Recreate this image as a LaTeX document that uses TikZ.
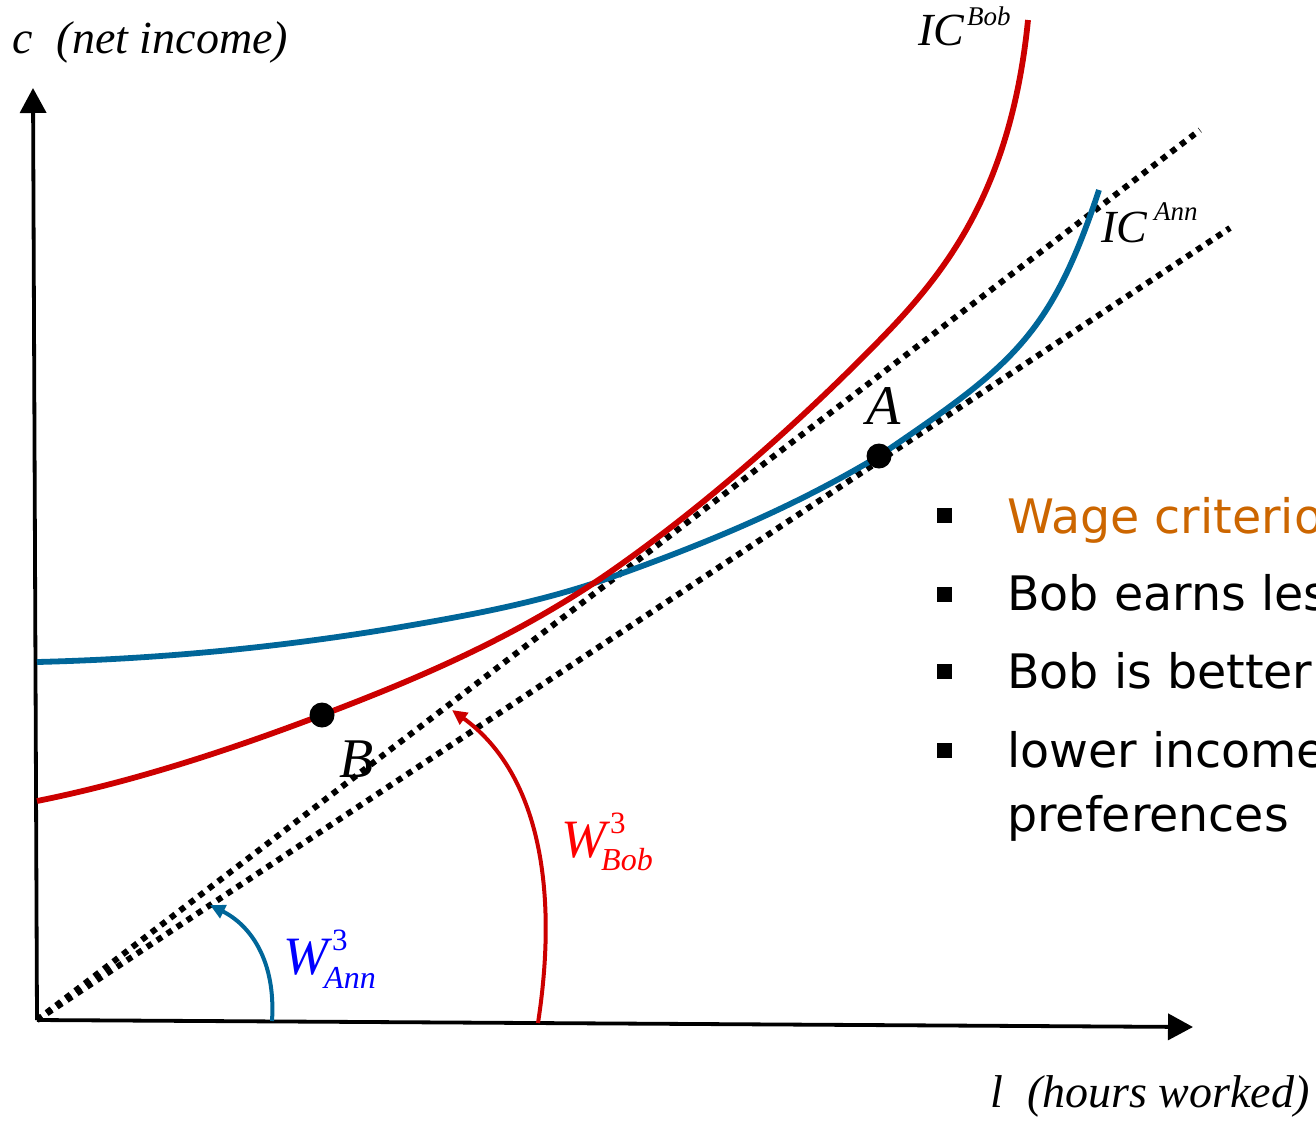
\documentclass[tikz,border=0pt]{standalone}
\usepackage{fontspec}
\setmainfont{Liberation Serif}
\newfontfamily\bulletfont{DejaVu Sans}
\usetikzlibrary{arrows.meta}
\definecolor{bobred}{RGB}{204,0,0}
\definecolor{annblue}{RGB}{0,102,153}
\definecolor{worange}{RGB}{204,102,0}
\begin{document}
\begin{tikzpicture}[x=1pt,y=-1pt,
  axis/.style={line width=3.8pt,-{Triangle[length=25pt,width=26pt]}},
  budget/.style={line width=6pt,dash pattern=on 6pt off 6pt},
  iccurve/.style={line width=5.8pt},
  warrow/.style={line width=4pt,-{Triangle[length=15pt,width=14pt]}},
  dot/.style={circle,fill=black,inner sep=0pt,minimum size=25pt},
  axlbl/.style={inner sep=0pt,anchor=base west,font=\fontsize{46}{54}\selectfont\itshape},
  ptlbl/.style={inner sep=0pt,anchor=base west,font=\fontsize{56}{64}\selectfont\itshape},
  icmain/.style={inner sep=0pt,anchor=base west,font=\fontsize{46}{54}\selectfont\itshape},
  icsup/.style={inner sep=0pt,anchor=base west,font=\fontsize{27}{30}\selectfont\itshape},
  wmain/.style={inner sep=0pt,anchor=base west,font=\fontsize{54}{60}\selectfont\itshape},
  wsup/.style={inner sep=0pt,anchor=base west,font=\fontsize{31}{36}\selectfont},
  wsub/.style={inner sep=0pt,anchor=base west,font=\fontsize{32}{36}\selectfont\itshape},
  btxt/.style={inner sep=0pt,anchor=base west,font=\fontsize{47.5}{54}\bulletfont},
  bsq/.style={fill=black,inner sep=0pt,minimum size=15pt}
]
\useasboundingbox (0,0) rectangle (1316,1125);
\clip (0,0) rectangle (1316,1125);

% axes
\coordinate (O) at (37,1020);
\coordinate (ytip) at (33,88);
\coordinate (xtip) at (1193,1027);
\draw[axis] (O) -- (ytip);
\draw[axis] (O) -- (xtip);

% budget lines
\coordinate (L1) at (1200,130);
\coordinate (L2) at (1230,228);
\draw[budget] (O) -- (L1);
\draw[budget] (O) -- (L2);

% key points
\coordinate (A0) at (879,456);
\coordinate (B0) at (322,715);
\coordinate (X) at (609,578);

% indifference curves
\draw[iccurve,annblue] (37,662) .. controls (157,659) and (275,648) .. (395,628)
  .. controls (465,616) and (539,603) .. (X)
  .. controls (699,546) and (789,510) .. (A0)
  .. controls (1011,366) and (1050,338) .. (1099,190);
\draw[iccurve,bobred] (37,801) .. controls (132,782) and (227,751) .. (B0)
  .. controls (417,679) and (518,636.5) .. (613,570)
  .. controls (693,514) and (780,440) .. (860,360)
  .. controls (930,290) and (1009,210) .. (1028,20);

% points
\node[dot] (A) at (A0) {};
\node[dot] (B) at (B0) {};
\node[ptlbl] (Alab) at (866,424) {A};
\node[ptlbl] (Blab) at (339,777) {B};

% curve labels
\node[icmain] (ICB) at (918,45) {IC};
\node[icsup] (ICBs) at (967,25) {Bob};
\node[icmain] (ICA) at (1101,242) {IC};
\node[icsup] (ICAs) at (1154,220) {Ann};

% wage arrows
\coordinate (wa0) at (272,1021);
\coordinate (wa1) at (210,905);
\coordinate (wb0) at (538,1023);
\coordinate (wb1) at (452,710);
\draw[warrow,annblue] (wa0) .. controls (276,960) and (250,925) .. (wa1);
\draw[warrow,bobred] (wb0) .. controls (560,880) and (535,770) .. (wb1);

\node[wmain,text=blue] (WA) at (283,974) {W};
\node[wsup,text=blue] (WAs) at (332,950) {3};
\node[wsub,text=blue] (WAb) at (324,988) {Ann};
\node[wmain,text=red] (WB) at (561,857) {W};
\node[wsup,text=red] (WBs) at (610,833) {3};
\node[wsub,text=red] (WBb) at (601,870) {Bob};

% axis labels
\node[axlbl] (ylab) at (12,53) {c\; (net income)};
\node[axlbl] (xlab) at (990,1107) {l\; (hours worked)};

% bullet list
\node[bsq] (s1) at (944,515) {};
\node[bsq] (s2) at (944,594) {};
\node[bsq] (s3) at (944,671) {};
\node[bsq] (s4) at (944,750) {};
\node[btxt,text=worange] (t1) at (1007,533) {Wage criterion};
\node[btxt] (t2) at (1007,610) {Bob earns less};
\node[btxt] (t3) at (1007,688) {Bob is better};
\node[btxt] (t4) at (1007,767) {lower income};
\node[btxt] (t5) at (1007,831) {preferences};
\end{tikzpicture}
\end{document}
